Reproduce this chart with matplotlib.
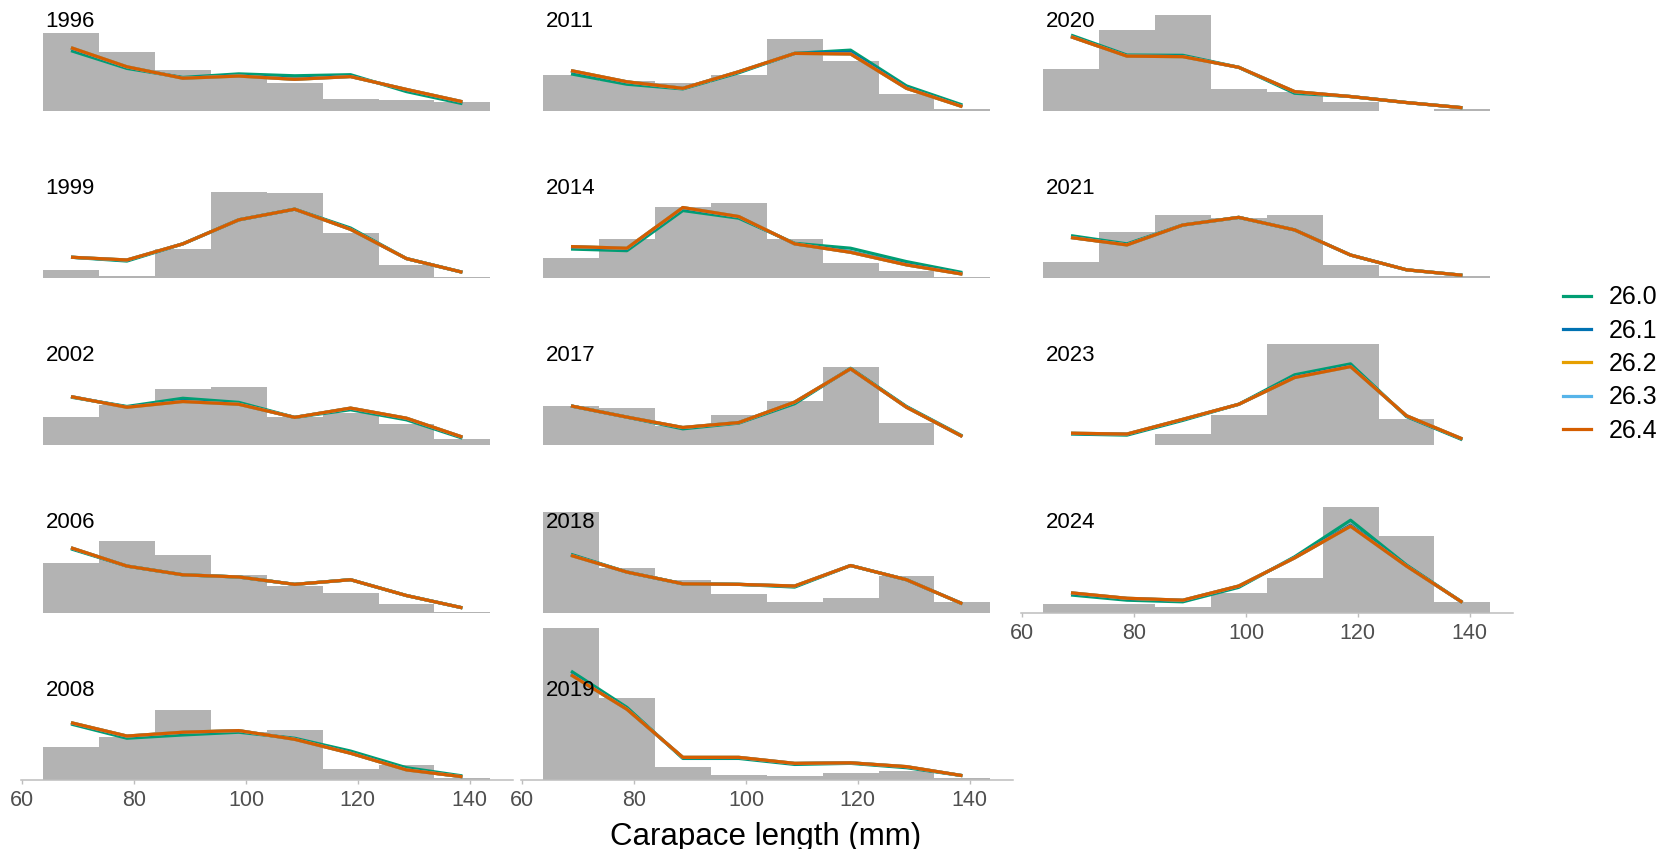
import matplotlib
matplotlib.use("Agg")
import matplotlib.pyplot as plt
from matplotlib.lines import Line2D

plt.rcParams['font.family'] = ['Liberation Sans', 'DejaVu Sans']

# ---------------- data ----------------
years = [1996, 1999, 2002, 2006, 2008, 2011, 2014, 2017, 2018, 2019, 2020, 2021, 2023, 2024]
bin_mid = [68.7, 78.7, 88.7, 98.7, 108.7, 118.7, 128.7, 138.7]
bin_width = 10
series_labels = ["26.0", "26.1", "26.2", "26.3", "26.4"]
series_colors = ["#009E73", "#0072B2", "#E69F00", "#56B4E9", "#D55E00"]

# observed proportions (grey histogram)
bars = [
    [0.287, 0.215, 0.150, 0.131, 0.101, 0.045, 0.040, 0.032],  # 1996
    [0.031, 0.009, 0.106, 0.317, 0.311, 0.165, 0.048, 0.004],  # 1999
    [0.103, 0.149, 0.206, 0.216, 0.106, 0.118, 0.078, 0.023],  # 2002
    [0.183, 0.261, 0.212, 0.137, 0.098, 0.073, 0.031, 0.002],  # 2006
    [0.122, 0.159, 0.256, 0.177, 0.183, 0.039, 0.055, 0.009],  # 2008
    [0.132, 0.110, 0.101, 0.132, 0.263, 0.183, 0.061, 0.006],  # 2011
    [0.076, 0.145, 0.260, 0.277, 0.145, 0.057, 0.026, 0.006],  # 2014
    [0.145, 0.137, 0.070, 0.112, 0.164, 0.286, 0.084, 0.000],  # 2017
    [0.369, 0.164, 0.121, 0.067, 0.039, 0.054, 0.136, 0.039],  # 2018
    [0.556, 0.299, 0.046, 0.018, 0.016, 0.026, 0.032, 0.006],  # 2019
    [0.153, 0.297, 0.352, 0.079, 0.071, 0.034, 0.000, 0.006],  # 2020
    [0.061, 0.168, 0.232, 0.220, 0.232, 0.049, 0.009, 0.009],  # 2021
    [0.000, 0.003, 0.042, 0.112, 0.372, 0.372, 0.096, 0.003],  # 2023
    [0.032, 0.032, 0.020, 0.074, 0.128, 0.387, 0.281, 0.040],  # 2024
]

line_260 = [
    [0.221, 0.156, 0.123, 0.136, 0.129, 0.133, 0.071, 0.027],
    [0.077, 0.063, 0.126, 0.214, 0.253, 0.184, 0.072, 0.022],
    [0.177, 0.143, 0.173, 0.158, 0.103, 0.131, 0.094, 0.027],
    [0.234, 0.171, 0.139, 0.131, 0.104, 0.121, 0.063, 0.018],
    [0.205, 0.153, 0.165, 0.175, 0.153, 0.106, 0.045, 0.015],
    [0.136, 0.098, 0.081, 0.140, 0.211, 0.223, 0.092, 0.022],
    [0.107, 0.101, 0.248, 0.220, 0.128, 0.110, 0.061, 0.021],
    [0.145, 0.104, 0.061, 0.082, 0.153, 0.283, 0.143, 0.035],
    [0.214, 0.149, 0.106, 0.104, 0.094, 0.173, 0.121, 0.033],
    [0.399, 0.266, 0.079, 0.079, 0.057, 0.061, 0.045, 0.016],
    [0.278, 0.205, 0.204, 0.160, 0.065, 0.053, 0.031, 0.012],
    [0.156, 0.126, 0.195, 0.223, 0.177, 0.085, 0.031, 0.011],
    [0.042, 0.038, 0.092, 0.151, 0.259, 0.299, 0.106, 0.021],
    [0.065, 0.046, 0.040, 0.093, 0.205, 0.339, 0.175, 0.038],
]

line_261 = [
    [0.230, 0.161, 0.121, 0.129, 0.118, 0.127, 0.078, 0.033],
    [0.077, 0.066, 0.126, 0.214, 0.253, 0.180, 0.072, 0.022],
    [0.179, 0.141, 0.163, 0.152, 0.103, 0.136, 0.099, 0.030],
    [0.237, 0.171, 0.139, 0.131, 0.104, 0.121, 0.063, 0.018],
    [0.209, 0.160, 0.174, 0.180, 0.150, 0.099, 0.038, 0.012],
    [0.146, 0.106, 0.083, 0.143, 0.211, 0.215, 0.085, 0.017],
    [0.114, 0.108, 0.257, 0.225, 0.126, 0.097, 0.051, 0.016],
    [0.145, 0.104, 0.065, 0.084, 0.158, 0.281, 0.141, 0.033],
    [0.211, 0.149, 0.106, 0.104, 0.097, 0.173, 0.121, 0.033],
    [0.388, 0.260, 0.082, 0.082, 0.060, 0.063, 0.048, 0.016],
    [0.273, 0.202, 0.200, 0.160, 0.070, 0.053, 0.031, 0.012],
    [0.150, 0.123, 0.195, 0.223, 0.177, 0.085, 0.031, 0.011],
    [0.044, 0.041, 0.095, 0.151, 0.251, 0.291, 0.108, 0.023],
    [0.071, 0.052, 0.045, 0.097, 0.202, 0.321, 0.172, 0.038],
]

line_262 = [
    [0.232, 0.162, 0.120, 0.128, 0.116, 0.126, 0.079, 0.034],
    [0.077, 0.067, 0.126, 0.214, 0.253, 0.179, 0.072, 0.022],
    [0.179, 0.140, 0.161, 0.151, 0.103, 0.137, 0.100, 0.031],
    [0.238, 0.171, 0.139, 0.131, 0.104, 0.121, 0.063, 0.018],
    [0.210, 0.161, 0.175, 0.181, 0.149, 0.098, 0.037, 0.012],
    [0.148, 0.107, 0.083, 0.144, 0.211, 0.209, 0.083, 0.016],
    [0.116, 0.110, 0.259, 0.226, 0.126, 0.095, 0.049, 0.015],
    [0.145, 0.104, 0.066, 0.084, 0.159, 0.281, 0.140, 0.033],
    [0.210, 0.149, 0.106, 0.104, 0.098, 0.173, 0.121, 0.033],
    [0.385, 0.259, 0.083, 0.083, 0.061, 0.063, 0.049, 0.016],
    [0.272, 0.201, 0.199, 0.160, 0.071, 0.053, 0.031, 0.012],
    [0.149, 0.122, 0.195, 0.223, 0.177, 0.085, 0.031, 0.011],
    [0.045, 0.042, 0.096, 0.151, 0.249, 0.289, 0.109, 0.024],
    [0.073, 0.053, 0.046, 0.098, 0.201, 0.317, 0.171, 0.038],
]

line_263 = [
    [0.232, 0.162, 0.120, 0.128, 0.116, 0.126, 0.079, 0.034],
    [0.077, 0.067, 0.126, 0.214, 0.253, 0.179, 0.072, 0.022],
    [0.179, 0.140, 0.161, 0.151, 0.103, 0.137, 0.100, 0.031],
    [0.238, 0.171, 0.139, 0.131, 0.104, 0.121, 0.063, 0.018],
    [0.210, 0.161, 0.175, 0.181, 0.149, 0.098, 0.037, 0.012],
    [0.148, 0.107, 0.083, 0.144, 0.211, 0.209, 0.083, 0.016],
    [0.116, 0.110, 0.259, 0.226, 0.126, 0.095, 0.049, 0.015],
    [0.145, 0.104, 0.066, 0.084, 0.159, 0.281, 0.140, 0.033],
    [0.210, 0.149, 0.106, 0.104, 0.098, 0.173, 0.121, 0.033],
    [0.385, 0.259, 0.083, 0.083, 0.061, 0.063, 0.049, 0.016],
    [0.272, 0.201, 0.199, 0.160, 0.071, 0.053, 0.031, 0.012],
    [0.149, 0.122, 0.195, 0.223, 0.177, 0.085, 0.031, 0.011],
    [0.045, 0.042, 0.096, 0.151, 0.249, 0.289, 0.109, 0.024],
    [0.073, 0.053, 0.046, 0.098, 0.201, 0.317, 0.171, 0.038],
]

line_264 = [
    [0.232, 0.162, 0.120, 0.128, 0.116, 0.126, 0.079, 0.034],
    [0.077, 0.067, 0.126, 0.214, 0.253, 0.179, 0.072, 0.022],
    [0.179, 0.140, 0.161, 0.151, 0.103, 0.137, 0.100, 0.031],
    [0.238, 0.171, 0.139, 0.131, 0.104, 0.121, 0.063, 0.018],
    [0.210, 0.161, 0.175, 0.181, 0.149, 0.098, 0.037, 0.012],
    [0.148, 0.107, 0.083, 0.144, 0.211, 0.209, 0.083, 0.016],
    [0.116, 0.110, 0.259, 0.226, 0.126, 0.095, 0.049, 0.015],
    [0.145, 0.104, 0.066, 0.084, 0.159, 0.281, 0.140, 0.033],
    [0.210, 0.149, 0.106, 0.104, 0.098, 0.173, 0.121, 0.033],
    [0.385, 0.259, 0.083, 0.083, 0.061, 0.063, 0.049, 0.016],
    [0.272, 0.201, 0.199, 0.160, 0.071, 0.053, 0.031, 0.012],
    [0.149, 0.122, 0.195, 0.223, 0.177, 0.085, 0.031, 0.011],
    [0.045, 0.042, 0.096, 0.151, 0.249, 0.289, 0.109, 0.024],
    [0.073, 0.053, 0.046, 0.098, 0.201, 0.317, 0.171, 0.038],
]

x_ticks = [60, 80, 100, 120, 140]
x_label = "Carapace length (mm)"

# ---------------- layout (pixels) ----------------
W, H = 1664, 849
fig = plt.figure(figsize=(W / 100, H / 100), dpi=100)

n_rows = 5
panel_left0 = 20.7
col_step = 500.0
panel_w = 492.0
row_base0 = 111.0
row_step = 167.25
panel_h = 160.0
px_per_unit = 273.0
xlim = (59.7, 147.7)

all_lines = [line_260, line_261, line_262, line_263, line_264]
bar_color = "#B3B3B3"
axis_grey = "#BDBDBD"

n = len(years)
for i, yr in enumerate(years):
    col, row = divmod(i, n_rows)
    left = panel_left0 + col * col_step
    base = row_base0 + row * row_step
    ax = fig.add_axes([left / W, 1 - base / H, panel_w / W, panel_h / H])
    ax.set_facecolor("none")
    ax.set_xlim(*xlim)
    ax.set_ylim(0, panel_h / px_per_unit)
    ax.bar(bin_mid, bars[i], width=bin_width, color=bar_color, linewidth=0, zorder=1)
    for s, (ser, c) in enumerate(zip(all_lines, series_colors)):
        ax.plot(bin_mid, ser[i], color=c, lw=2.3, solid_capstyle="butt",
                solid_joinstyle="round", zorder=2 + s)
    for sp in ax.spines.values():
        sp.set_visible(False)
    ax.set_yticks([])
    is_bottom = (i == n - 1) or (row == n_rows - 1)
    if is_bottom:
        ax.spines["bottom"].set_visible(True)
        ax.spines["bottom"].set_color(axis_grey)
        ax.spines["bottom"].set_linewidth(1.1)
        ax.set_xticks(x_ticks)
        ax.tick_params(axis="x", length=3, width=1.0, color=axis_grey,
                       labelcolor="#4F4F4F", labelsize=15.5, pad=4.5)
    else:
        ax.set_xticks([])
    fig.text((left + 25) / W, 1 - (base - 84.3) / H, str(yr), ha="left",
             va="baseline", fontsize=16, color="black")

fig.text(766 / W, 1 - 845 / H, x_label, ha="center", va="baseline",
         fontsize=22.5, color="black")

handles = [Line2D([], [], color=c, lw=2.3) for c in series_colors]
fig.legend(handles, series_labels, loc="center left",
           bbox_to_anchor=(1563 / W, 1 - 364.0 / H), frameon=False,
           fontsize=18, handlelength=1.1, handletextpad=0.75,
           labelspacing=0.37, borderpad=0, borderaxespad=0)

fig.savefig("out.png", dpi=100)
